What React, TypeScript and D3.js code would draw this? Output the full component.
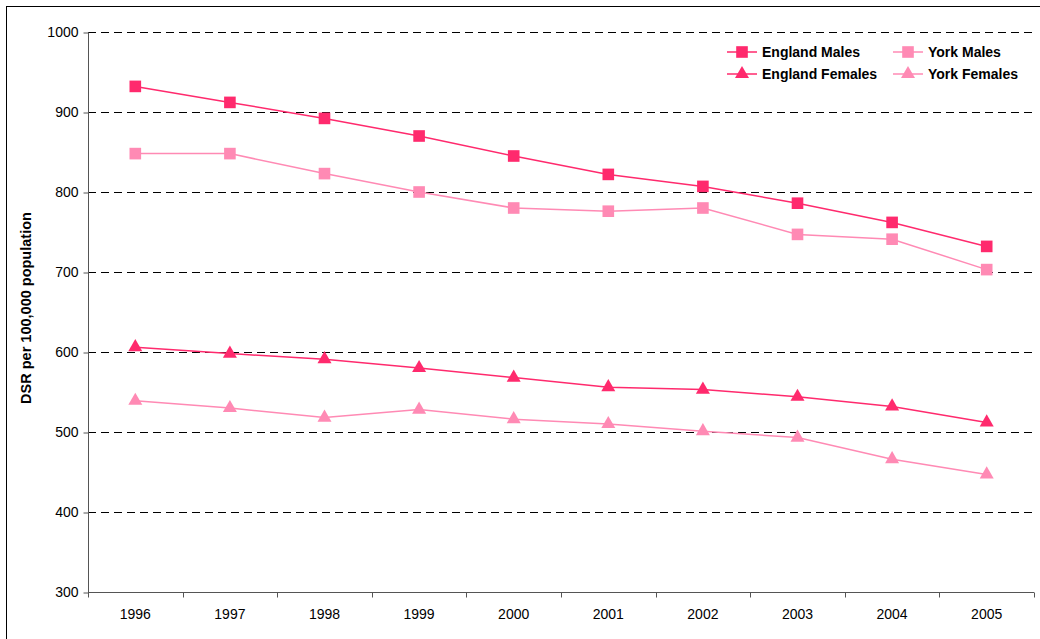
import * as d3 from 'd3';
import { useEffect, useRef } from 'react';

const years = ['1996', '1997', '1998', '1999', '2000', '2001', '2002', '2003', '2004', '2005'];
const englandMales = [932, 912, 892, 870, 845, 822, 807, 786, 762, 732];
const yorkMales = [848, 848, 823, 800, 780, 776, 780, 747, 741, 703];
const englandFemales = [606, 598, 591, 580, 568, 556, 553, 544, 532, 512];
const yorkFemales = [539, 530, 518, 528, 516, 510, 501, 493, 466, 447];
const yTicks = [300, 400, 500, 600, 700, 800, 900, 1000];

const ENG = '#ff2a6d';
const YORK = '#ff8ab4';

const series = [
  { name: 'England Males', values: englandMales, color: ENG, shape: 'square' },
  { name: 'York Males', values: yorkMales, color: YORK, shape: 'square' },
  { name: 'England Females', values: englandFemales, color: ENG, shape: 'triangle' },
  { name: 'York Females', values: yorkFemales, color: YORK, shape: 'triangle' }
];

const W = 1040;
const H = 639;
const margin = { top: 32, right: 6, bottom: 47, left: 88 };

const App = () => {
  const svgRef = useRef<SVGSVGElement>(null);

  useEffect(() => {
    const svg = d3.select(svgRef.current);
    svg.selectAll('*').remove();
    const width = W - margin.left - margin.right;
    const height = H - margin.top - margin.bottom;
    const font = 'Arial, "Liberation Sans", sans-serif';

    // outer frame
    svg.append('rect').attr('x', 6.5).attr('y', 6.5).attr('width', W + 20).attr('height', H + 20)
      .attr('fill', 'white').attr('stroke', '#000').attr('stroke-width', 1);

    const g = svg.append('g').attr('transform', `translate(${margin.left},${margin.top})`);

    const x = d3.scaleBand().domain(years).range([0, width]);
    const y = d3.scaleLinear().domain([300, 1000]).range([height, 0]);

    // grid
    g.selectAll('.grid').data(yTicks.filter(t => t > 300)).join('line')
      .attr('x1', 0).attr('x2', width)
      .attr('y1', d => Math.round(y(d)) + 0.5).attr('y2', d => Math.round(y(d)) + 0.5)
      .attr('stroke', '#000').attr('stroke-dasharray', '8 5').attr('stroke-width', 1);

    // y axis
    const yAxis = g.append('g').attr('transform', 'translate(0.5,0.5)')
      .call(d3.axisLeft(y).tickValues(yTicks).tickFormat(d3.format('d')).tickSize(5).tickPadding(5));
    yAxis.select('.domain').attr('stroke', '#555').attr('d', `M0,0V${height}`);
    yAxis.selectAll('line').attr('stroke', '#555');
    yAxis.selectAll('text').attr('font-family', font).attr('font-size', 14).attr('fill', '#000');

    // x axis with ticks at category boundaries
    const xg = g.append('g').attr('transform', `translate(0,${height + 0.5})`);
    xg.append('line').attr('x1', 0).attr('x2', width).attr('stroke', '#555');
    xg.selectAll('.tk').data(d3.range(years.length + 1)).join('line')
      .attr('x1', i => Math.round(i * x.step()) + 0.5).attr('x2', i => Math.round(i * x.step()) + 0.5)
      .attr('y1', 0).attr('y2', 5).attr('stroke', '#555');
    xg.selectAll('text').data(years).join('text')
      .attr('x', d => x(d)! + x.bandwidth() / 2).attr('y', 26)
      .attr('text-anchor', 'middle').attr('font-family', font).attr('font-size', 14).text(d => d);

    // y label
    svg.append('text').attr('transform', 'rotate(-90)')
      .attr('x', -308).attr('y', 31).attr('text-anchor', 'middle')
      .attr('font-family', font).attr('font-size', 14.5).attr('font-weight', 'bold').text('DSR per 100,000 population');

    const cx = (i: number) => x(years[i])! + x.bandwidth() / 2;
    const line = d3.line<number>().x((_, i) => cx(i)).y(d => y(d));
    const sq = d3.symbol().type(d3.symbolSquare).size(135);
    const tri = d3.symbol().type(d3.symbolTriangle).size(85);

    series.forEach(s => {
      g.append('path').datum(s.values).attr('d', line).attr('fill', 'none')
        .attr('stroke', s.color).attr('stroke-width', 1.5);
      g.selectAll(null).data(s.values).join('path')
        .attr('transform', (d, i) => `translate(${cx(i)},${y(d)})`)
        .attr('d', s.shape === 'square' ? sq() : tri())
        .attr('fill', s.color);
    });

    // legend
    const legendPos = [
      [727, 52], [893, 52], [727, 74], [893, 74]
    ];
    series.forEach((s, i) => {
      const [lx, ly] = legendPos[i];
      const lg = svg.append('g').attr('transform', `translate(${lx},${ly})`);
      lg.append('line').attr('x1', 0).attr('x2', 30).attr('stroke', s.color).attr('stroke-width', 1.5);
      lg.append('path').attr('transform', 'translate(15,0)')
        .attr('d', s.shape === 'square' ? sq() : tri()).attr('fill', s.color);
      lg.append('text').attr('x', 35).attr('y', 5).attr('font-family', font).attr('font-size', 14)
        .attr('font-weight', 'bold').text(s.name);
    });
  }, []);

  return <svg ref={svgRef} width={W} height={H} style={{ position: 'absolute', left: 0, top: 0 }} />;
};

export default App;
